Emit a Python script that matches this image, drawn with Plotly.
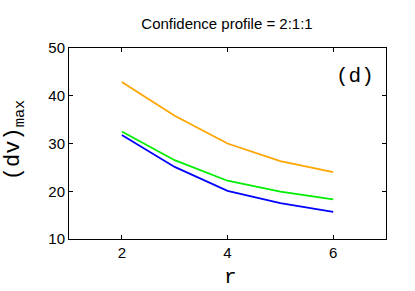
import plotly.graph_objects as go

r_values = [2, 3, 4, 5, 6]
orange_series = [42.9, 35.8, 30.0, 26.3, 24.0]
green_series = [32.5, 26.5, 22.2, 19.9, 18.3]
blue_series = [31.8, 25.1, 20.1, 17.5, 15.7]
x_ticks = [2, 4, 6]
y_ticks = [10, 20, 30, 40, 50]

MONO = "Courier New, Liberation Mono, DejaVu Sans Mono, monospace"
SANS = "Liberation Sans, Arial, Helvetica"

fig = go.Figure()
for ys, col in [(orange_series, "#FFA500"), (green_series, "#00EE00"), (blue_series, "#0000FF")]:
    fig.add_trace(go.Scatter(x=r_values, y=ys, mode="lines",
                             line=dict(color=col, width=1.8), showlegend=False))

axis_common = dict(showgrid=False, zeroline=False, showline=True, linecolor="black",
                   linewidth=1, mirror="ticks", ticks="inside", ticklen=4, automargin=False,
                   tickcolor="black", tickfont=dict(family=SANS, size=15, color="black"))

fig.update_layout(
    width=415, height=291,
    margin=dict(l=69, r=29, t=48, b=52),
    plot_bgcolor="white", paper_bgcolor="white",
    title=dict(text="Confidence profile = 2:1:1", x=0.547, xanchor="center", y=1 - 24/291, yanchor="middle",
               font=dict(family=SANS, size=15, color="black")),
    xaxis=dict(range=[1, 7], tickvals=x_ticks, **axis_common),
    yaxis=dict(range=[10, 50], tickvals=y_ticks, **axis_common),
    annotations=[
        dict(text="(d)", xref="paper", yref="paper", x=0.968, y=0.851, xanchor="right", yanchor="middle",
             showarrow=False, font=dict(family=MONO, size=21, color="black")),
        dict(text="r", xref="paper", yref="paper", x=0.508, y=-0.2, xanchor="center", yanchor="middle",
             showarrow=False, font=dict(family=MONO, size=21, color="black")),
        dict(text="(dv)<sub>max</sub>", xref="paper", yref="paper", x=-0.17, y=0.518, xanchor="center",
             yanchor="middle", textangle=-90, showarrow=False, font=dict(family=MONO, size=22, color="black")),
    ],
)

fig.write_html("out.html", config={"displayModeBar": False},
               post_script="document.body.style.margin='0px';")
